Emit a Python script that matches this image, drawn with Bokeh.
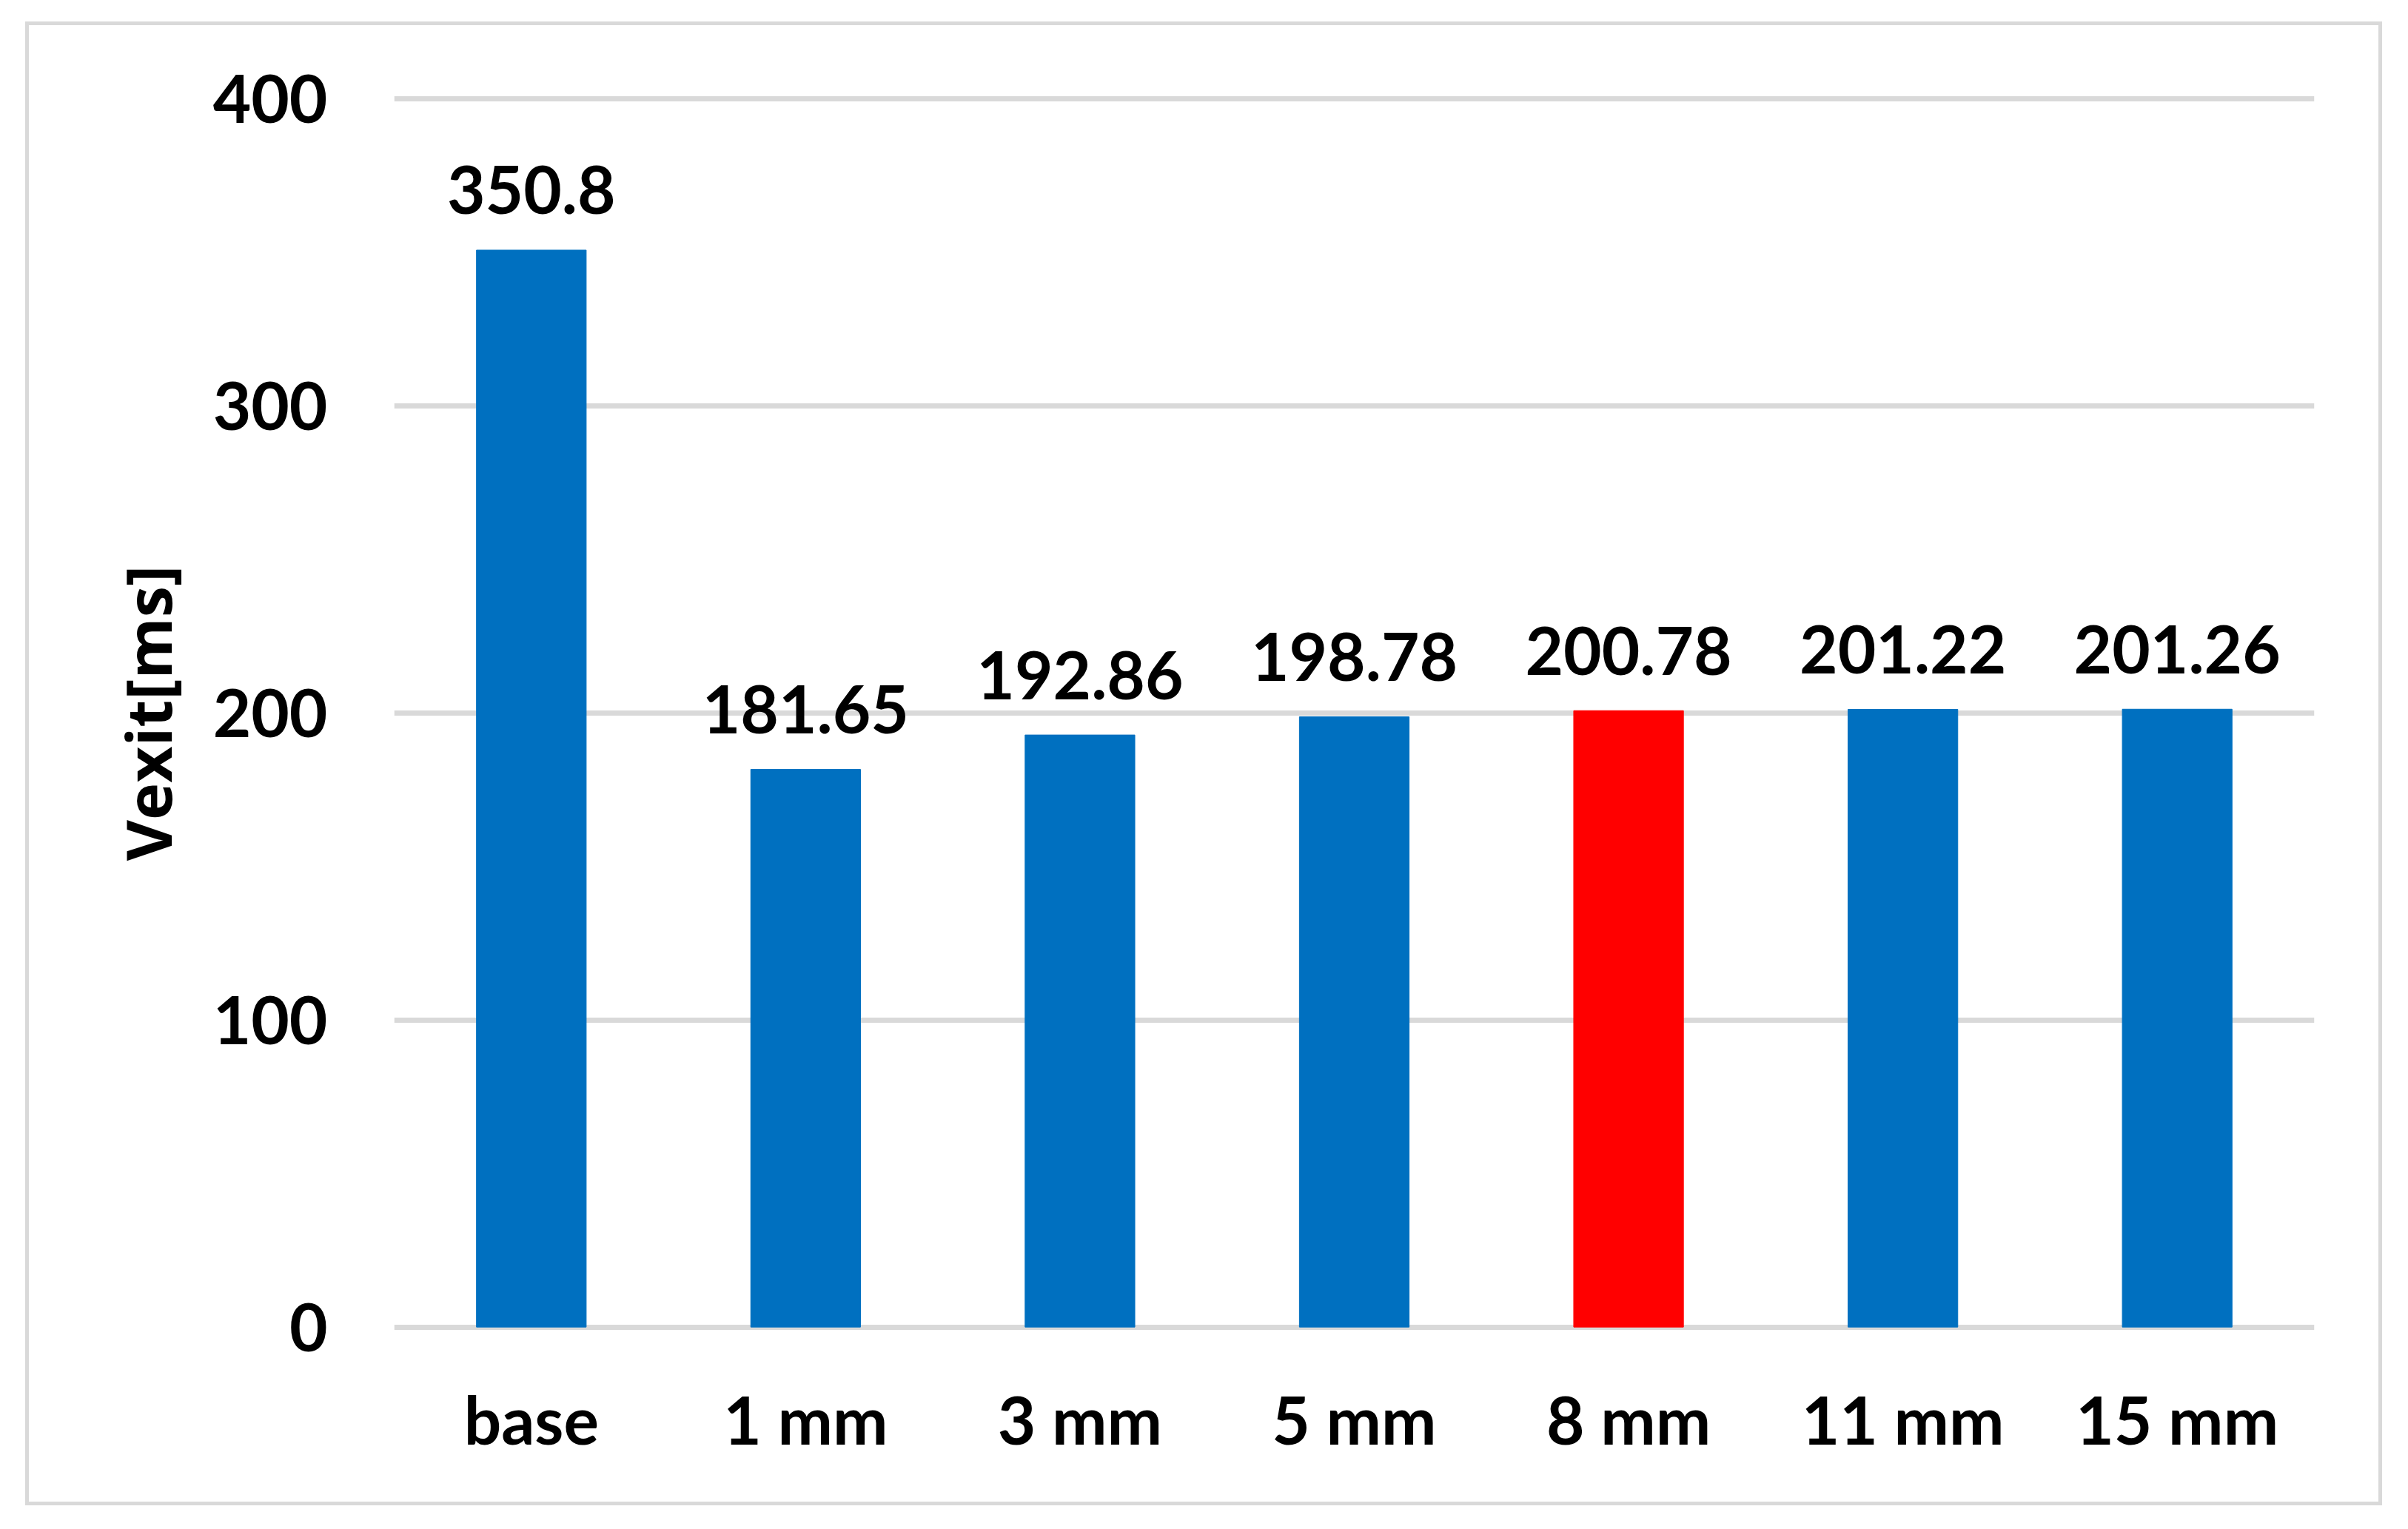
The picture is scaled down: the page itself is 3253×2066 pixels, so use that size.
from bokeh.plotting import figure
from bokeh.models import ColumnDataSource, Range1d, FixedTicker, InlineStyleSheet
from bokeh.core.properties import value
from bokeh.embed import file_html
from bokeh.resources import INLINE

categories = ["base", "1 mm", "3 mm", "5 mm", "8 mm", "11 mm", "15 mm"]
vexit = [350.8, 181.65, 192.86, 198.78, 200.78, 201.22, 201.26]
bar_colors = ["#0070C0", "#0070C0", "#0070C0", "#0070C0", "#FF0000", "#0070C0", "#0070C0"]
y_ticks = [0, 100, 200, 300, 400]
y_title = "Vexit[ms]"

source = ColumnDataSource(dict(
    cat=categories, val=vexit, color=bar_colors,
    label=[str(v) for v in vexit],
))

p = figure(
    x_range=categories, y_range=Range1d(-2.5, 402.5),
    width=3252, height=2064,
    frame_width=2594, frame_height=1680,
    min_border_left=532, min_border_right=126,
    min_border_top=123, min_border_bottom=261,
    output_backend="svg", toolbar_location=None,
    background_fill_color="white", border_fill_color="white",
)
# light grey frame around the whole chart area
p.stylesheets = [InlineStyleSheet(css=(
    ":host::after{content:'';position:absolute;left:34px;top:29px;"
    "width:3184px;height:2005px;box-sizing:border-box;"
    "border:5px solid #d9d9d9;z-index:100;pointer-events:none;}"
))]
p.outline_line_color = None
p.x_range.range_padding = 0

p.vbar(x="cat", top="val", bottom=0, width=0.4, color="color", source=source)

p.text(x="cat", y="val", text="label", source=source,
       text_align="center", text_baseline="alphabetic", y_offset=-81,
       text_font=value("Lato"), text_font_style="bold",
       text_font_size="89px", text_color="black")

p.xgrid.grid_line_color = None
p.ygrid.grid_line_color = "#d9d9d9"
p.ygrid.grid_line_width = 7
p.yaxis.ticker = FixedTicker(ticks=y_ticks)

for ax in (p.xaxis[0], p.yaxis[0]):
    ax.axis_line_color = None
    ax.major_tick_line_color = None
    ax.minor_tick_line_color = None
    ax.major_tick_in = 0
    ax.major_tick_out = 0
    ax.major_label_text_font = "Lato"
    ax.major_label_text_font_style = "bold"
    ax.major_label_text_font_size = "89px"
    ax.major_label_text_color = "black"

p.xaxis.major_label_standoff = 60
p.yaxis.major_label_standoff = 90
p.yaxis.axis_label = y_title
p.yaxis.axis_label_text_font = "Open Sans"
p.yaxis.axis_label_text_font_style = "bold"
p.yaxis.axis_label_text_font_size = "85px"
p.yaxis.axis_label_text_color = "black"
p.yaxis.axis_label_standoff = 28

open("out.html", "w").write(file_html(p, INLINE))
